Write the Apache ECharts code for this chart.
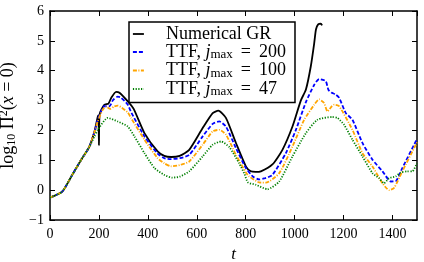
<!DOCTYPE html>
<html>
<head>
<meta charset="utf-8">
<script src="https://cdn.jsdelivr.net/npm/echarts@6/dist/echarts.min.js"></script>
<style>html,body{margin:0;padding:0;background:#fff}#c{width:424px;height:262px}</style>
</head>
<body>
<div id="c"></div>
<script>
// ---- data ----
const tGR  = [0, 50, 90, 130, 160, 182, 195, 198, 200, 203, 222, 239, 250, 270, 284, 318, 342, 386, 440, 467, 495, 530, 569, 624, 665, 688, 719, 760, 801, 821, 840, 862, 909, 950, 991, 1025, 1046, 1066, 1080, 1087, 1096, 1107, 1112];
const vGR  = [-0.25, -0.05, 0.5, 1.05, 1.44, 1.97, 2.45, 2.5, 1.5, 2.55, 2.86, 2.90, 3.09, 3.29, 3.26, 2.97, 2.72, 1.91, 1.30, 1.15, 1.11, 1.15, 1.35, 2.08, 2.58, 2.66, 2.42, 1.58, 0.79, 0.63, 0.61, 0.63, 0.86, 1.35, 2.13, 3.0, 3.37, 4.15, 4.93, 5.38, 5.55, 5.58, 5.52];

const t200 = [0, 50, 90, 130, 160, 182, 195, 222, 243, 257, 277, 290, 318, 331, 386, 440, 467, 495, 530, 569, 624, 665, 692, 719, 760, 800, 830, 855, 880, 909, 964, 1005, 1046, 1080, 1100, 1127, 1138, 1150, 1168, 1182, 1209, 1236, 1277, 1318, 1359, 1393, 1413, 1440, 1495, 1500];
const v200 = [-0.25, -0.05, 0.5, 1.05, 1.44, 1.95, 2.35, 2.81, 2.81, 3.01, 3.13, 3.1, 2.86, 2.62, 1.80, 1.22, 1.07, 1.04, 1.07, 1.18, 1.80, 2.22, 2.30, 2.13, 1.41, 0.75, 0.45, 0.36, 0.40, 0.51, 1.24, 2.02, 2.95, 3.53, 3.72, 3.65, 3.36, 3.27, 3.20, 3.09, 2.58, 2.36, 1.58, 1.02, 0.63, 0.29, 0.30, 0.74, 1.63, 1.7];

const t100 = [0, 50, 90, 130, 160, 182, 195, 216, 229, 246, 262, 277, 318, 331, 386, 440, 467, 495, 530, 569, 624, 665, 692, 719, 760, 800, 814, 855, 882, 937, 991, 1039, 1080, 1100, 1120, 1134, 1152, 1161, 1182, 1236, 1277, 1318, 1359, 1386, 1406, 1440, 1495, 1500];
const v100 = [-0.25, -0.05, 0.5, 1.05, 1.44, 1.95, 2.3, 2.7, 2.8, 2.72, 2.8, 2.83, 2.6, 2.42, 1.69, 1.07, 0.9, 0.8, 0.84, 0.96, 1.52, 1.97, 2.02, 1.86, 1.18, 0.6, 0.46, 0.26, 0.25, 0.57, 1.46, 2.36, 2.86, 3.04, 2.92, 2.64, 2.81, 2.86, 2.81, 2.02, 1.24, 0.79, 0.23, 0.0, 0.07, 0.63, 1.52, 1.6];

const t47  = [0, 50, 90, 130, 160, 182, 195, 236, 277, 318, 345, 386, 427, 467, 500, 530, 569, 624, 665, 699, 733, 773, 795, 809, 841, 889, 937, 991, 1046, 1093, 1154, 1175, 1202, 1236, 1277, 1318, 1345, 1365, 1386, 1413, 1433, 1460, 1481, 1500];
const v47  = [-0.25, -0.05, 0.5, 1.05, 1.44, 1.8, 2.02, 2.42, 2.30, 2.13, 1.80, 1.24, 0.74, 0.51, 0.42, 0.45, 0.63, 1.13, 1.52, 1.63, 1.44, 0.9, 0.54, 0.26, 0.18, 0.03, 0.29, 1.13, 1.91, 2.36, 2.45, 2.42, 2.19, 1.69, 1.13, 0.57, 0.40, 0.23, 0.40, 0.46, 0.59, 0.63, 0.63, 0.91];

const seriesNames = ['Numerical GR', 'TTF, jmax = 200', 'TTF, jmax = 100', 'TTF, jmax = 47'];
const xTicks = [0, 200, 400, 600, 800, 1000, 1200, 1400];
const yTicks = [-1, 0, 1, 2, 3, 4, 5, 6];

// ---- chart ----
const FONT = '"Liberation Serif", "DejaVu Serif", serif';
const zip = (t, v) => t.map((x, i) => [x, v[i]]);
const chart = echarts.init(document.getElementById('c'), null, {renderer: 'canvas'});

const axisLine = {show: true, onZero: false, lineStyle: {color: '#000', width: 1.5}};
const axisTick = {show: true, inside: true, length: 5, lineStyle: {color: '#000', width: 1}};

function mkSeries(name, data, color, type, width) {
  return {
    name, type: 'line', data, showSymbol: false, symbol: 'circle', symbolSize: 0, smooth: 0.2,
    lineStyle: {color, type, width}, itemStyle: {color}, z: 3
  };
}

chart.setOption({
  animation: false,
  backgroundColor: '#fff',
  grid: {left: 50, right: 7, top: 11, bottom: 42, outerBoundsMode: 'none', containLabel: false},
  xAxis: [{
    type: 'value', min: 0, max: 1500, interval: 200, position: 'bottom',
    axisLine, axisTick, splitLine: {show: false},
    axisLabel: {color: '#000', fontFamily: FONT, fontSize: 14, margin: 7, showMaxLabel: false,
      formatter: v => xTicks.includes(v) ? String(v) : ''},
    name: 't', nameLocation: 'middle', nameGap: 23,
    nameTextStyle: {color: '#000', fontFamily: FONT, fontSize: 17, fontStyle: 'italic'}
  }, {
    type: 'value', min: 0, max: 1500, interval: 200, position: 'top',
    axisLine, axisTick, splitLine: {show: false}, axisLabel: {show: false}
  }],
  yAxis: [{
    type: 'value', min: -1, max: 6, interval: 1, position: 'left',
    axisLine, axisTick, splitLine: {show: false},
    axisLabel: {color: '#000', fontFamily: FONT, fontSize: 14, margin: 6,
      formatter: v => yTicks.includes(v) ? (v < 0 ? '\u2212' + (-v) : String(v)) : ''},
    name: 'log{sub|10} Π{sup|2}({i|x} = 0)', nameLocation: 'middle', nameGap: 27,
    nameTextStyle: {color: '#000', fontFamily: FONT, fontSize: 18,
      rich: {
        sub: {fontFamily: FONT, fontSize: 12, color: '#000', padding: [8, 0, 0, 0]},
        sup: {fontFamily: FONT, fontSize: 12, color: '#000', padding: [0, 0, 8, 0]},
        i: {fontFamily: FONT, fontSize: 18, color: '#000', fontStyle: 'italic'}
      }}
  }, {
    type: 'value', min: -1, max: 6, interval: 1, position: 'right',
    axisLine, axisTick, splitLine: {show: false}, axisLabel: {show: false}
  }],
  legend: {
    orient: 'vertical', left: 129, top: 22,
    data: seriesNames,
    backgroundColor: '#fff', borderColor: '#000', borderWidth: 1.5, borderRadius: 0,
    padding: [3, 9, 4, 3], itemGap: 0, itemWidth: 11, itemHeight: 14,
    itemStyle: {opacity: 0},
    lineStyle: {width: 1.8},
    formatter: name => name.startsWith('TTF')
      ? 'TTF, {i|j}{sub|max}{eq|=}' + name.split('= ')[1]
      : name,
    textStyle: {color: '#000', fontFamily: FONT, fontSize: 18, padding: [0, 0, 0, 17],
      rich: {
        i: {fontFamily: FONT, fontSize: 18, fontStyle: 'italic', color: '#000'},
        sub: {fontFamily: FONT, fontSize: 13, color: '#000', padding: [6, 0, 0, 0]},
        eq: {fontFamily: FONT, fontSize: 18, color: '#000', padding: [0, 8, 0, 8]}
      }}
  },
  series: [
    mkSeries(seriesNames[0], zip(tGR, vGR), '#000000', 'solid', 1.8),
    mkSeries(seriesNames[1], zip(t200, v200), '#0000ff', [4, 2], 1.8),
    mkSeries(seriesNames[2], zip(t100, v100), '#ffa500', [4, 1.5, 1, 1.5], 1.8),
    mkSeries(seriesNames[3], zip(t47, v47), '#008000', [1.2, 1.5], 1.8)
  ]
});
</script>
</body>
</html>
